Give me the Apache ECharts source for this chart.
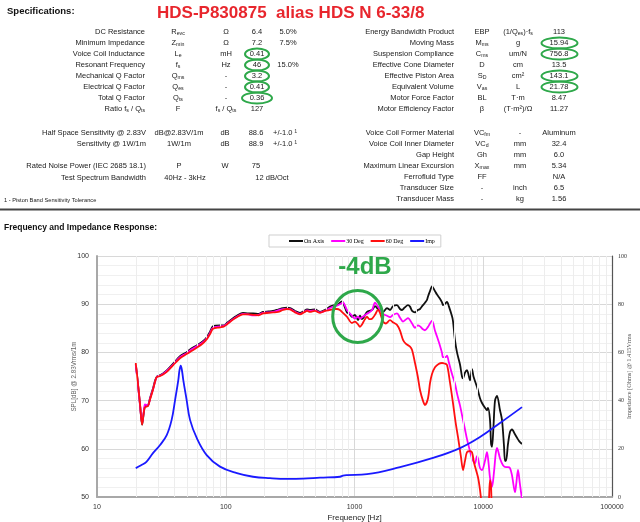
<!DOCTYPE html>
<html><head><meta charset="utf-8">
<script src="https://cdn.jsdelivr.net/npm/echarts/dist/echarts.min.js"></script>
<style>html,body{margin:0;padding:0;background:#fff}#c{width:640px;height:522px}</style>
</head><body><div id="c"></div>
<script>
// ---------------- DATA ----------------
const seriesNames = ['On Axis', '30 Deg', '60 Deg', 'Imp'];

const onAxis = [[20,77.6],[20.8,73.5],[21.6,69.0],[22.4,65.0],[23.1,67.5],[23.6,68.8],[24.9,69.0],[25.8,70.5],[27.2,72.5],[28.3,74.2],[29.2,75.0],[31,75.3],[32.6,75.6],[35,76.3],[38.9,77.6],[44.1,79.2],[50,80.1],[52.8,80.6],[59.8,81.5],[66.5,82.3],[71.5,83.2],[75.5,84.3],[79.6,85.4],[90.2,85.6],[97,85.6],[102,86.1],[114,87.1],[122,87.6],[136,88.2],[150,88.1],[163,88.1],[180,88.0],[195,88.4],[215,88.5],[233,88.6],[255,88.9],[278,89.2],[299,89.3],[316,89.2],[345,88.6],[377,88.2],[405,88.6],[428,88.9],[451,88.8],[493,88.9],[540,88.4],[590,88.8],[645,89.5],[700,89.8],[731,89.8],[770,90.3],[800,90.6],[835,89.6],[874,88.3],[915,88.0],[956,87.4],[1009,87.8],[1065,86.7],[1103,87.6],[1144,86.9],[1200,87.6],[1251,88.4],[1368,88.8],[1443,89.6],[1522,89.0],[1578,88.8],[1665,88.4],[1788,89.2],[1887,88.8],[1991,89.6],[2138,89.8],[2257,89.0],[2338,88.8],[2450,89.3],[2603,89.8],[2699,89.5],[2800,88.6],[2951,88.3],[3100,88.8],[3227,89.0],[3400,89.8],[3528,90.3],[3657,90.9],[3724,91.6],[3858,92.7],[4000,93.7],[4200,92.8],[4373,92.0],[4600,91.2],[4782,90.4],[4868,89.8],[5050,90.1],[5230,90.5],[5400,89.6],[5720,87.5],[5821,86.5],[6034,82.5],[6254,80.0],[6598,77.5],[6839,75.0],[6962,74.6],[7216,75.8],[7478,76.3],[7891,74.2],[8177,76.5],[8400,75.0],[8943,72.8],[9436,70.5],[9779,69.5],[10320,68.5],[10693,68.0],[10887,68.5],[11283,66.0],[11500,61.0],[11695,60.4],[12000,64.5],[12340,70.0],[12790,71.0],[13494,68.0],[13985,66.0],[14500,60.5],[14756,57.5],[15023,57.5],[15570,61.0],[16137,63.5],[16724,64.0],[17646,63.0],[18288,62.3],[19000,61.6],[20000,61.0]];

const deg30 = [[20,77.4],[20.8,73.3],[21.6,69.0],[22.4,65.3],[23.1,67.8],[23.6,69.2],[24.9,69.0],[25.8,70.4],[27.2,72.3],[28.3,74.0],[29.2,74.9],[31,75.2],[32.6,75.5],[35,76.2],[38.9,77.4],[44.1,79.0],[50,79.9],[52.8,80.4],[59.8,81.3],[66.5,82.1],[71.5,83.0],[75.5,84.0],[79.6,85.1],[90.2,85.4],[97,85.5],[102,85.9],[114,86.9],[122,87.4],[136,88.0],[150,87.9],[163,87.7],[180,87.8],[195,88.2],[215,88.3],[233,88.4],[255,88.7],[278,89.0],[299,89.1],[316,89.0],[345,88.4],[377,88.0],[405,88.4],[428,88.7],[451,88.6],[493,88.7],[540,88.3],[590,88.6],[645,89.2],[700,89.6],[731,89.7],[770,90.0],[814,90.3],[874,88.8],[956,87.6],[1009,87.0],[1065,87.4],[1103,87.0],[1144,87.3],[1251,88.0],[1368,88.8],[1443,90.3],[1522,89.5],[1665,88.0],[1788,87.6],[1887,87.3],[2000,87.8],[2138,88.1],[2257,87.2],[2381,86.4],[2500,86.8],[2603,87.1],[2800,86.0],[2951,85.1],[3100,85.6],[3227,85.4],[3400,84.8],[3528,84.6],[3724,85.3],[3858,86.0],[4000,86.6],[4219,84.5],[4373,83.3],[4600,81.5],[4782,79.9],[4868,79.0],[5100,79.0],[5230,79.3],[5400,78.0],[5720,75.5],[6034,73.5],[6254,71.5],[6598,69.0],[6962,66.0],[7216,64.0],[7478,62.0],[7891,59.5],[8177,58.0],[8629,57.0],[8943,58.5],[9104,58.0],[9436,56.0],[9779,55.6],[10320,57.5],[10693,59.3],[11000,57.0],[11283,54.0],[11695,52.1],[12100,55.0],[12500,59.0],[12790,60.2],[13494,58.0],[14238,56.6],[15023,56.2],[15570,56.2],[16137,56.0],[16724,54.5],[17646,51.0],[18000,52.5],[18619,55.6],[19200,53.0],[20000,49.5]];

const deg60 = [[20,77.8],[20.8,73.6],[21.6,69.2],[22.4,65.0],[23.1,67.6],[23.6,68.6],[24.9,68.9],[25.8,70.2],[27.2,72.2],[28.3,74.0],[29.2,74.9],[31,75.1],[32.6,75.4],[35,76.0],[38.9,77.3],[44.1,78.8],[50,79.7],[52.8,80.1],[59.8,81.0],[66.5,81.9],[71.5,82.8],[75.5,83.8],[79.6,84.9],[90.2,85.2],[97,85.4],[102,85.8],[114,86.8],[122,87.3],[136,87.9],[150,87.9],[163,87.8],[180,87.7],[195,88.1],[215,88.2],[233,88.3],[255,88.4],[278,88.8],[299,89.0],[316,88.9],[345,88.3],[377,87.9],[405,88.3],[428,88.6],[451,88.4],[493,88.6],[540,88.2],[590,88.6],[645,88.8],[700,89.0],[731,89.0],[770,88.8],[814,88.2],[874,87.4],[956,86.1],[1009,86.4],[1065,85.8],[1103,85.3],[1144,85.8],[1200,86.8],[1251,87.4],[1300,86.9],[1368,87.0],[1443,87.8],[1522,88.8],[1578,88.2],[1665,86.4],[1750,86.0],[1887,86.7],[2000,86.2],[2138,85.7],[2257,84.5],[2381,82.6],[2500,81.8],[2699,81.2],[2800,80.5],[2951,77.8],[3100,75.0],[3227,72.2],[3400,70.0],[3528,69.1],[3724,70.5],[3858,73.6],[4000,75.5],[4219,76.9],[4500,77.6],[4782,77.8],[5000,77.7],[5230,77.4],[5500,74.0],[5821,69.5],[6100,65.5],[6367,62.4],[6700,58.5],[6962,55.6],[7216,57.5],[7478,59.3],[7891,59.5],[8177,59.3],[8500,57.0],[9104,54.1],[9436,51.5],[9779,48.0],[10320,45.0],[10887,46.0],[11283,53.5],[11500,52.0],[11695,47.0],[12500,42.0],[13000,40.0]];

const impedance = [[20,12.0],[22,13.2],[24.3,14.7],[27.2,18.2],[30.9,21.6],[34.8,25.7],[38,32.0],[40.4,40.2],[42.8,48.5],[43.7,52.5],[44.7,54.5],[45.7,52.5],[46.8,48.5],[49.7,40.2],[52.8,32.0],[59.5,24.5],[71.1,17.4],[90.2,12.6],[122,9.9],[163,8.4],[220,7.8],[299,7.5],[400,7.6],[540,8.0],[772,8.4],[814,8.9],[874,9.1],[1251,9.5],[2257,12.4],[4072,16.2],[6598,20.3],[9436,24.9],[13494,30.7],[20000,37.3]];

// Spec sheet tables
const specLeftA = [
  ['DC Resistance','R_evc','Ω','6.4','5.0%'],
  ['Minimum Impedance','Z_min','Ω','7.2','7.5%'],
  ['Voice Coil Inductance','L_e','mH','0.41',''],
  ['Resonant Frequency','f_s','Hz','46','15.0%'],
  ['Mechanical Q Factor','Q_ms','-','3.2',''],
  ['Electrical Q Factor','Q_es','-','0.41',''],
  ['Total Q Factor','Q_ts','-','0.36',''],
  ['Ratio f_s / Q_ts','F','f_s / Q_ts','127','']
];
const specLeftB = [
  ['Half Space Sensitivity @ 2.83V','dB@2.83V/1m','dB','88.6','+/-1.0 ¹'],
  ['Sensitivity @ 1W/1m','1W/1m','dB','88.9','+/-1.0 ¹']
];
const specLeftC = [
  ['Rated Noise Power (IEC 2685 18.1)','P','W','75',''],
  ['Test Spectrum Bandwidth','40Hz - 3kHz','','','12 dB/Oct']
];
const specRightA = [
  ['Energy Bandwidth Product','EBP','(1/Q_es)·f_s','113'],
  ['Moving Mass','M_ms','g','15.94'],
  ['Suspension Compliance','C_ms','um/N','756.8'],
  ['Effective Cone Diameter','D','cm','13.5'],
  ['Effective Piston Area','S_D','cm²','143.1'],
  ['Equivalent Volume','V_as','L','21.78'],
  ['Motor Force Factor','BL','T·m','8.47'],
  ['Motor Efficiency Factor','β','(T·m²)/Ω','11.27']
];
const specRightB = [
  ['Voice Coil Former Material','VC_fm','-','Aluminum'],
  ['Voice Coil Inner Diameter','VC_d','mm','32.4'],
  ['Gap Height','Gh','mm','6.0'],
  ['Maximum Linear Excursion','X_max','mm','5.34'],
  ['Ferrofluid Type','FF','','N/A'],
  ['Transducer Size','-','inch','6.5'],
  ['Transducer Mass','-','kg','1.56']
];
const circledLeft = [2,3,4,5,6];
const circledRight = [1,2,4,5];
const titleText = 'HDS-P830875  alias HDS N 6-33/8';
const noteText = '-4dB';

// ---------------- RENDER ----------------
const SANS = '"Liberation Sans", Arial, sans-serif';
const SERIF = '"Liberation Serif", "Times New Roman", serif';
const GREEN = '#2ea84a';
const RICH = { s: { fontSize: 5.2, fontFamily: SANS, fill: '#1a1a1a', color: '#1a1a1a', padding: [3, 0, 0, 0] } };
function rt(s) { return s.replace(/_([A-Za-z0-9]+)/g, '{s|$1}'); }
function T(x, y, text, o) {
  o = o || {};
  return { type: 'text', silent: true, z: 100,
    style: { x: x, y: y, text: rt(text), fill: o.fill || '#1a1a1a',
      fontSize: o.size || 7.5, fontFamily: o.family || SANS, fontWeight: o.weight || 'normal',
      textAlign: o.align || 'left', align: o.align || 'left',
      textVerticalAlign: 'middle', verticalAlign: 'middle', rich: RICH } };
}
const els = [];
els.push(T(7, 11, 'Specifications:', { size: 9.5, weight: 'bold', fill: '#111' }));
els.push(T(157, 13, titleText, { size: 17, weight: 'bold', fill: '#e8262d' }));
specLeftA.forEach((r, i) => {
  const y = 32 + i * 11;
  els.push(T(145, y, r[0], { align: 'right' }));
  els.push(T(178, y, r[1], { align: 'center' }));
  els.push(T(226, y, r[2], { align: 'center' }));
  els.push(T(257, y, r[3], { align: 'center' }));
  if (r[4]) els.push(T(288, y, r[4], { align: 'center' }));
});
specLeftB.forEach((r, i) => {
  const y = 133 + i * 11;
  els.push(T(146, y, r[0], { align: 'right' }));
  els.push(T(179, y, r[1], { align: 'center' }));
  els.push(T(225, y, r[2], { align: 'center' }));
  els.push(T(256, y, r[3], { align: 'center' }));
  els.push(T(273, y, r[4], { align: 'left' }));
});
specLeftC.forEach((r, i) => {
  const y = 166 + i * 12;
  els.push(T(146, y, r[0], { align: 'right' }));
  els.push(T(i === 0 ? 179 : 185, y, r[1], { align: 'center' }));
  if (r[2]) els.push(T(225, y, r[2], { align: 'center' }));
  if (r[3]) els.push(T(256, y, r[3], { align: 'center' }));
  if (r[4]) els.push(T(272, y, r[4], { align: 'center' }));
});
els.push(T(4, 200, '1 - Piston Band Sensitivity Tolerance', { size: 5.7 }));
specRightA.forEach((r, i) => {
  const y = 32 + i * 11;
  els.push(T(454, y, r[0], { align: 'right' }));
  els.push(T(482, y, r[1], { align: 'center' }));
  els.push(T(518, y, r[2], { align: 'center' }));
  els.push(T(559, y, r[3], { align: 'center' }));
});
specRightB.forEach((r, i) => {
  const y = 133 + i * 11;
  els.push(T(454, y, r[0], { align: 'right' }));
  els.push(T(482, y, r[1], { align: 'center' }));
  if (r[2]) els.push(T(520, y, r[2], { align: 'center' }));
  els.push(T(559, y, r[3], { align: 'center' }));
});
circledLeft.forEach(i => els.push({ type: 'ellipse', silent: true, z: 101,
  shape: { cx: 257, cy: 32 + i * 11, rx: i === 6 ? 15 : 12, ry: 5.5 },
  style: { fill: 'none', stroke: GREEN, lineWidth: 2 } }));
circledRight.forEach(i => els.push({ type: 'ellipse', silent: true, z: 101,
  shape: { cx: 559.5, cy: 32 + i * 11, rx: 18, ry: 5.5 },
  style: { fill: 'none', stroke: GREEN, lineWidth: 2 } }));
els.push({ type: 'line', silent: true, z: 100, shape: { x1: 0, y1: 209.5, x2: 640, y2: 209.5 },
  style: { stroke: '#444', lineWidth: 2 } });
els.push(T(4, 228, 'Frequency and Impedance Response:', { size: 8.5, weight: 'bold', fill: '#111' }));
els.push(T(365, 267, noteText, { size: 24, weight: 'bold', fill: GREEN, align: 'center' }));
els.push({ type: 'ellipse', silent: true, z: 101, shape: { cx: 357.7, cy: 316.5, rx: 25, ry: 26 },
  style: { fill: 'none', stroke: GREEN, lineWidth: 3 } });

const minorFreqs = [];
[10, 100, 1000, 10000].forEach(d => { for (let m = 2; m <= 9; m++) minorFreqs.push(d * m); });

const chart = echarts.init(document.getElementById('c'), null, { renderer: 'canvas' });
chart.setOption({
  animation: false,
  backgroundColor: '#fff',
  grid: { left: 97, right: 28, top: 256, bottom: 25, outerBoundsMode: 'none', containLabel: false },
  legend: {
    data: seriesNames, left: 269, top: 235, orient: 'horizontal',
    padding: [3, 6, 3, 20], itemGap: 7, itemWidth: 14, itemHeight: 2, icon: 'rect',
    borderColor: '#cfcfcf', borderWidth: 1, backgroundColor: '#fff',
    textStyle: { fontFamily: SERIF, fontSize: 6, color: '#000', padding: [0, 0, 0, -4] }
  },
  xAxis: {
    type: 'log', logBase: 10, min: 10, max: 100000,
    axisLine: { show: true, lineStyle: { color: '#a8a8a8', width: 2 } },
    axisTick: { show: false },
    splitLine: { show: true, lineStyle: { color: '#d8d8d8', width: 1 } },
    axisLabel: { fontFamily: SANS, fontSize: 7, color: '#333', margin: 7,
      formatter: v => String(Math.round(v)) },
    name: 'Frequency [Hz]', nameLocation: 'middle', nameGap: 17, nameMoveOverlap: false,
    nameTextStyle: { fontFamily: SANS, fontSize: 8, color: '#222' }
  },
  yAxis: [
    { type: 'value', min: 50, max: 100, interval: 10, position: 'left',
      axisLine: { show: true, lineStyle: { color: '#a8a8a8', width: 2 } },
      axisTick: { show: false },
      splitLine: { show: true, lineStyle: { color: '#d8d8d8', width: 1 } },
      minorTick: { show: false, splitNumber: 5 },
      minorSplitLine: { show: true, lineStyle: { color: '#f0f0f0', width: 1 } },
      axisLabel: { fontFamily: SANS, fontSize: 7, color: '#333', margin: 8 },
      name: 'SPL[dB] @ 2.83Vrms/1m', nameLocation: 'middle', nameGap: 20, nameRotate: 90,
      nameMoveOverlap: false,
      nameTextStyle: { fontFamily: SANS, fontSize: 6.3, color: '#666' } },
    { type: 'value', min: 0, max: 100, interval: 20, position: 'right',
      axisLine: { show: true, lineStyle: { color: '#555', width: 1.2 } },
      axisTick: { show: false },
      splitLine: { show: false },
      axisLabel: { fontFamily: SERIF, fontSize: 6, color: '#333', margin: 6 },
      name: 'Impedance [Ohms] @ 1.415Vrms', nameLocation: 'middle', nameGap: 14, nameRotate: 90,
      nameMoveOverlap: false,
      nameTextStyle: { fontFamily: SERIF, fontSize: 6.3, color: '#555' } }
  ],
  series: [
    { type: 'line', name: '_grid', data: [], z: 1, silent: true,
      markLine: { silent: true, symbol: 'none', label: { show: false }, animation: false,
        lineStyle: { color: '#ededed', width: 1, type: 'solid' },
        data: minorFreqs.map(f => ({ xAxis: f })) } },
    { type: 'line', name: seriesNames[0], data: onAxis, yAxisIndex: 0, showSymbol: false, smooth: 0.3,
      lineStyle: { color: '#111', width: 1.8 }, itemStyle: { color: '#111' }, z: 3 },
    { type: 'line', name: seriesNames[1], data: deg30, yAxisIndex: 0, showSymbol: false, smooth: 0.3,
      lineStyle: { color: '#ff00ff', width: 1.8 }, itemStyle: { color: '#ff00ff' }, z: 4 },
    { type: 'line', name: seriesNames[2], data: deg60, yAxisIndex: 0, showSymbol: false, smooth: 0.3,
      lineStyle: { color: '#ff1010', width: 1.8 }, itemStyle: { color: '#ff1010' }, z: 5 },
    { type: 'line', name: seriesNames[3], data: impedance, yAxisIndex: 1, showSymbol: false, smooth: 0.4,
      lineStyle: { color: '#1a1aff', width: 1.8 }, itemStyle: { color: '#1a1aff' }, z: 6 }
  ],
  graphic: { elements: els }
});
</script></body></html>
